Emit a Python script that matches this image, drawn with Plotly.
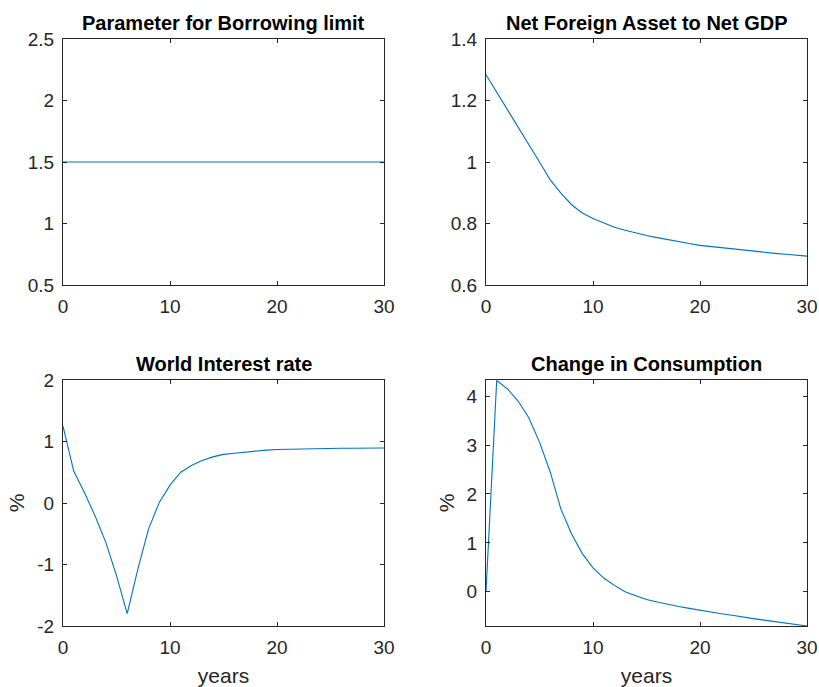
import plotly.graph_objects as go

years = list(range(0, 31))

borrowing_limit = [1.5] * 31

nfa_to_gdp = [1.284, 1.228, 1.171, 1.114, 1.057, 1.000, 0.942, 0.899, 0.861, 0.834,
              0.816, 0.801, 0.788, 0.778, 0.769, 0.761, 0.754, 0.747, 0.741, 0.735,
              0.729, 0.725, 0.721, 0.717, 0.713, 0.710, 0.706, 0.703, 0.700, 0.697, 0.694]

world_rate = [1.25, 0.52, 0.17, -0.21, -0.64, -1.18, -1.80, -1.07, -0.42, 0.01,
              0.29, 0.50, 0.61, 0.69, 0.75, 0.79, 0.81, 0.83, 0.85, 0.86,
              0.87, 0.875, 0.88, 0.88, 0.885, 0.885, 0.89, 0.89, 0.89, 0.895, 0.895]

consumption = [0.0, 4.32, 4.15, 3.90, 3.56, 3.06, 2.45, 1.69, 1.18, 0.78,
               0.49, 0.28, 0.13, 0.00, -0.08, -0.16, -0.21, -0.26, -0.30, -0.34,
               -0.38, -0.41, -0.45, -0.48, -0.52, -0.55, -0.58, -0.61, -0.64, -0.67, -0.70]

titles = ["Parameter for Borrowing limit", "Net Foreign Asset to Net GDP",
          "World Interest rate", "Change in Consumption"]

x_ticks = [0, 10, 20, 30]
y1_ticks = [0.5, 1, 1.5, 2, 2.5]
y1_labels = ["0.5", "1", "1.5", "2", "2.5"]
y2_ticks = [0.6, 0.8, 1.0, 1.2, 1.4]
y2_labels = ["0.6", "0.8", "1", "1.2", "1.4"]
y3_ticks = [-2, -1, 0, 1, 2]
y3_labels = ["-2", "-1", "0", "1", "2"]
y4_ticks = [0, 1, 2, 3, 4]
y4_labels = ["0", "1", "2", "3", "4"]

W, H = 819, 687
LINE = "#0072BD"
AX = "#262626"
FONT = "Liberation Sans, Arial, sans-serif"

def xd(a, b):
    return [a / W, b / W]

def yd(top, bottom):
    return [1 - bottom / H, 1 - top / H]

fig = go.Figure()

series = [borrowing_limit, nfa_to_gdp, world_rate, consumption]
for i, s in enumerate(series):
    suf = "" if i == 0 else str(i + 1)
    fig.add_trace(go.Scatter(x=years, y=s, mode="lines",
                             line=dict(color=LINE, width=1.1),
                             xaxis="x" + suf, yaxis="y" + suf, showlegend=False,
                             cliponaxis=True))

domains = [
    (xd(63, 384), yd(39, 285)),
    (xd(486, 807), yd(39, 285)),
    (xd(63, 384), yd(380, 626)),
    (xd(486, 807), yd(380, 626)),
]
yranges = [[0.5, 2.5], [0.6, 1.4], [-2, 2], [-0.70, 4.33]]
yt = [(y1_ticks, y1_labels), (y2_ticks, y2_labels), (y3_ticks, y3_labels), (y4_ticks, y4_labels)]

common = dict(showgrid=False, zeroline=False, showline=True, linecolor=AX, linewidth=1,
              mirror="ticks", ticks="inside", ticklen=4, tickcolor=AX, tickwidth=1,
              automargin=False,
              tickfont=dict(family=FONT, size=19, color=AX))

layout = dict(width=W, height=H, margin=dict(l=0, r=0, t=0, b=0, autoexpand=False),
              paper_bgcolor="white", plot_bgcolor="white", showlegend=False)

for i in range(4):
    suf = "" if i == 0 else str(i + 1)
    xdom, ydom = domains[i]
    xa = dict(common, domain=xdom, range=[0, 30], tickvals=x_ticks,
              ticktext=[str(v) for v in x_ticks], anchor="y" + suf,
              ticklabelstandoff=4)
    ya = dict(common, domain=ydom, range=yranges[i], tickvals=yt[i][0],
              ticktext=yt[i][1], anchor="x" + suf, ticklabelstandoff=4)
    if i >= 2:
        xa["title"] = dict(text="years", font=dict(family=FONT, size=21, color=AX), standoff=12)
        ya["title"] = dict(text="%", font=dict(family=FONT, size=21, color=AX), standoff=6)
    layout["xaxis" + suf] = xa
    layout["yaxis" + suf] = ya

annotations = []
for i in range(4):
    xdom, ydom = domains[i]
    annotations.append(dict(text="<b>" + titles[i] + "</b>", x=(xdom[0] + xdom[1]) / 2,
                            y=ydom[1], xref="paper", yref="paper", xanchor="center",
                            yanchor="bottom", yshift=3, showarrow=False,
                            font=dict(family=FONT, size=20, color="black")))
layout["annotations"] = annotations

fig.update_layout(**layout)
fig.write_html("out.html")
